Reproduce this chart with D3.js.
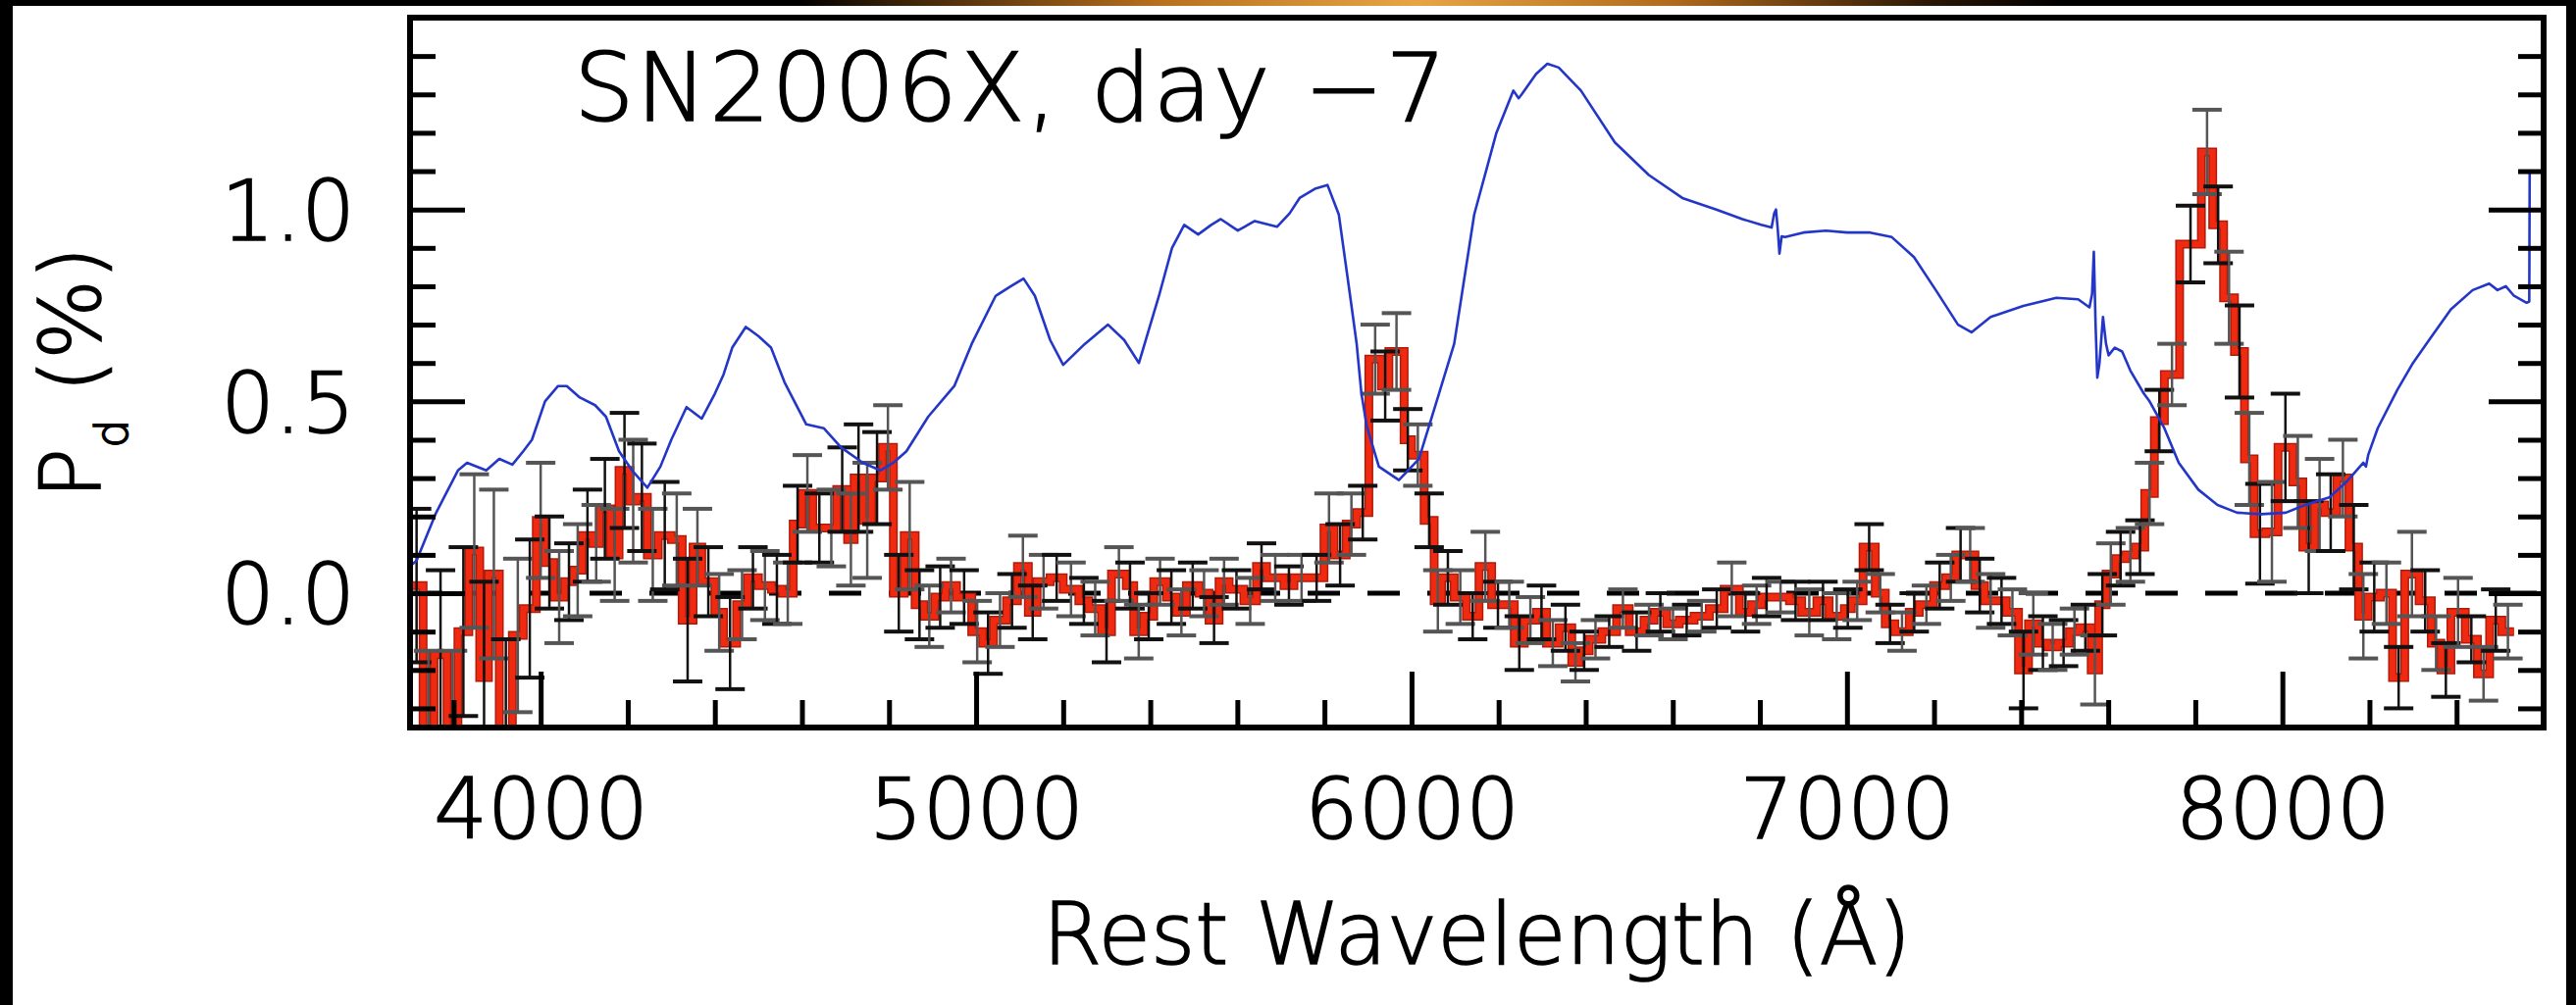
<!DOCTYPE html>
<html><head><meta charset="utf-8">
<script src="https://cdn.jsdelivr.net/npm/d3@7"></script>
<style>html,body{margin:0;padding:0;background:#000;overflow:hidden}</style>
</head><body><svg id="c" width="2626" height="1025"></svg>
<script>
// ---------- DATA ----------
const titleText = "SN2006X, day \u22127";
const xTitle = "Rest Wavelength (\u00C5)";
const xMajorTicks = [4000, 5000, 6000, 7000, 8000];
const xMinorTicks = [3800,4200,4400,4600,4800,5200,5400,5600,5800,6200,6400,6600,6800,7200,7400,7600,7800,8200,8400];
const yMajorTicks = [0.0, 0.5, 1.0];
const yMinorTicks = [-0.3,-0.2,-0.1,0.1,0.2,0.3,0.4,0.6,0.7,0.8,0.9,1.1,1.2,1.3,1.4];
const yTickLabels = ["0.0", "0.5", "1.0"];

// binned polarization (bin start wavelength, value, 1-sigma error)
const binStart = [
 3700,3730,3755,3785,3810,3835,3860,3880,3905,3935,3960,3990,
 4010,4030,4055,4075,4095,4120,4135,4160,4180,4205,4220,4245,4270,4300,4325,4350,4370,4400,4420,4450,4475,
 4500,4530,4555,4580,4600,4625,4655,4680,4705,4720,4740,4760,4785,4810,4835,4860,4880,4905,4930,4955,4990,
 5015,5040,5070,5095,5120,5140,5170,5200,5236,5259,5288,5311,5345,5362,5385,5408,5437,5460,5483,
 5512,5535,5558,5581,5615,5644,5667,5707,5730,5765,5799,5822,5850,5874,5902,5931,5948,5983,
 6000,6029,6052,6069,6098,6126,6155,6184,6213,6236,6259,6287,6310,6339,6368,6385,6408,6437,6471,
 6500,6534,6557,6586,6615,6649,6684,6718,6753,6781,6804,6827,6868,6896,6931,6959,6994,
 7010,7037,7065,7088,7110,7143,7166,7199,7227,7250,7272,7294,7316,7344,7366,7394,7417,7439,7461,7484,
 7511,7534,7561,7578,7595,7617,7640,7662,7684,7706,7729,7764,7814,7840,7865,7890,7913,7935,7962,
 7990,8024,8047,8074,8097,8125,8153,8175,8197,8225,8253,8281,8314,8342,8364,8387,8420,8448,8476,8504];
const binEnd = 8532;
const polValue = [
 0.02,-0.40,-0.16,-0.40,-0.10,0.11,-0.22,0.05,-0.40,-0.11,-0.04,0.19,
 0.08,-0.01,0.03,0.06,0.15,0.13,0.22,0.10,0.32,0.24,0.25,0.10,0.15,0.14,-0.07,0.12,0.03,-0.05,-0.13,-0.03,0.04,
 0.02,0.01,0.00,0.18,0.26,0.17,0.17,0.27,0.14,0.30,0.19,0.30,0.38,0.00,0.15,-0.03,-0.06,-0.01,0.02,-0.01,-0.10,
 -0.13,-0.07,-0.02,0.07,-0.05,0.03,0.04,0.01,-0.02,-0.04,-0.10,0.05,0.02,-0.10,-0.06,0.03,-0.01,-0.05,0.02,
 0.00,-0.07,0.03,0.01,-0.02,0.07,0.04,0.02,0.04,0.04,0.17,0.10,0.18,0.21,0.61,0.54,0.63,0.40,
 0.36,0.19,-0.02,0.04,-0.01,-0.06,0.07,-0.03,-0.03,-0.13,-0.07,-0.05,-0.13,-0.09,-0.18,-0.15,-0.12,-0.10,-0.04,
 -0.10,-0.07,-0.05,-0.08,-0.07,-0.06,-0.04,0.01,-0.05,-0.03,-0.01,-0.01,-0.02,-0.05,-0.02,-0.06,-0.04,
 -0.02,0.12,0.00,-0.08,-0.10,-0.05,-0.03,0.02,0.04,0.10,0.10,0.02,-0.02,-0.02,-0.05,-0.20,-0.08,-0.13,-0.14,-0.13,
 -0.10,-0.09,-0.20,-0.03,0.05,0.09,0.10,0.12,0.26,0.45,0.57,0.91,1.15,0.96,0.77,0.63,0.35,0.155,0.16,
 0.38,0.29,0.12,0.23,0.21,0.30,0.12,-0.06,-0.01,0.00,-0.22,0.05,-0.02,-0.13,-0.20,-0.05,-0.12,-0.21,-0.07,-0.10];
const polError = [
 0.20,0.25,0.22,0.25,0.22,0.20,0.25,0.22,0.28,0.20,0.18,0.15,
 0.12,0.12,0.10,0.12,0.12,0.10,0.13,0.12,0.15,0.16,0.14,0.12,0.14,0.12,0.16,0.10,0.09,0.10,0.12,0.09,0.08,
 0.09,0.09,0.08,0.10,0.10,0.09,0.10,0.11,0.12,0.14,0.15,0.12,0.11,0.10,0.14,0.09,0.08,0.08,0.07,0.07,0.08,
 0.08,0.07,0.07,0.08,0.07,0.07,0.06,0.07,0.06,0.07,0.08,0.07,0.06,0.07,0.06,0.06,0.07,0.06,0.06,
 0.06,0.06,0.06,0.05,0.06,0.06,0.06,0.05,0.06,0.06,0.09,0.08,0.08,0.07,0.09,0.09,0.10,0.08,
 0.08,0.07,0.08,0.07,0.07,0.06,0.09,0.06,0.06,0.07,0.06,0.07,0.06,0.06,0.05,0.05,0.05,0.04,0.05,
 0.05,0.04,0.05,0.04,0.04,0.04,0.05,0.07,0.05,0.05,0.05,0.04,0.05,0.06,0.05,0.06,0.05,
 0.05,0.06,0.05,0.05,0.05,0.05,0.05,0.06,0.06,0.07,0.07,0.07,0.07,0.06,0.06,0.10,0.08,0.07,0.06,0.06,
 0.06,0.06,0.09,0.08,0.08,0.07,0.07,0.07,0.08,0.08,0.08,0.10,0.11,0.10,0.12,0.12,0.12,0.13,0.13,
 0.14,0.12,0.12,0.12,0.10,0.10,0.11,0.11,0.09,0.08,0.08,0.11,0.08,0.07,0.07,0.09,0.06,0.07,0.08,0.07];

// scaled flux spectrum (blue)
const fluxWave = [3700,3715,3760,3810,3831,3875,3905,3935,3960,3980,4010,4040,4060,4090,4125,4150,4180,4210,4245,4275,4300,4335,4370,4400,4420,4440,4471,4500,4529,4560,4610,4650,4690,4740,4780,4810,4840,4890,4950,4990,5045,5080,5109,5135,5170,5200,5250,5303,5340,5374,5420,5450,5478,5510,5540,5562,5601,5640,5691,5720,5743,5780,5807,5833,5859,5874,5885,5897,5925,5971,6017,6063,6098,6144,6195,6234,6246,6253,6286,6312,6338,6389,6467,6545,6622,6700,6760,6803,6827,6833,6837,6841,6845,6850,6858,6900,6952,7000,7053,7103,7154,7204,7255,7286,7330,7405,7481,7531,7557,7563,7567,7571,7575,7580,7588,7595,7601,7615,7632,7651,7682,7695,7729,7762,7807,7851,7896,7952,8008,8052,8108,8147,8186,8192,8197,8219,8264,8300,8337,8387,8437,8475,8494,8513,8532,8561,8567,8568];
const fluxValue = [0.07,0.085,0.21,0.32,0.34,0.32,0.35,0.335,0.37,0.40,0.50,0.54,0.54,0.51,0.49,0.46,0.37,0.32,0.275,0.33,0.40,0.485,0.455,0.52,0.57,0.64,0.694,0.67,0.64,0.55,0.44,0.43,0.38,0.34,0.32,0.34,0.37,0.46,0.54,0.65,0.775,0.80,0.82,0.775,0.66,0.595,0.65,0.70,0.66,0.60,0.775,0.90,0.96,0.935,0.96,0.975,0.945,0.97,0.955,0.99,1.03,1.055,1.064,0.987,0.775,0.65,0.52,0.436,0.33,0.295,0.35,0.52,0.65,0.987,1.20,1.31,1.29,1.30,1.353,1.38,1.37,1.31,1.175,1.09,1.03,1.0,0.975,0.96,0.953,0.99,1.0,0.95,0.885,0.93,0.928,0.94,0.945,0.94,0.94,0.928,0.876,0.79,0.70,0.68,0.72,0.749,0.77,0.766,0.745,0.78,0.89,0.70,0.562,0.60,0.72,0.65,0.62,0.64,0.63,0.58,0.52,0.50,0.43,0.34,0.27,0.23,0.21,0.206,0.21,0.23,0.25,0.29,0.34,0.33,0.36,0.43,0.53,0.60,0.66,0.74,0.79,0.807,0.79,0.80,0.775,0.757,0.76,1.10];

// ---------- CHART ----------
const svg = d3.select("#c");
const M = {left: 418, right: 2593, top: 18, bottom: 742};
const x = d3.scaleLinear().domain([3700, 8600]).range([M.left, M.right]);
const y = d3.scaleLinear().domain([-0.35, 1.5]).range([M.bottom, M.top]);
const FONT = "'DejaVu Sans', sans-serif";
const FW = 200;
function textStyle(sel, size){
  sel.attr("font-family",FONT).attr("font-weight",FW).attr("font-size",size)
     .attr("fill","#000").attr("stroke","#000").attr("stroke-width",1.6);
}

// backdrop: black frame with warm strip on top, white slide
const defs = svg.append("defs");
const g0 = defs.append("linearGradient").attr("id","topstrip").attr("x1","0").attr("x2","1").attr("y1","0").attr("y2","0");
[[0,"#000"],[0.31,"#000"],[0.35,"#3a2208"],[0.45,"#b8701e"],[0.55,"#e8a444"],[0.65,"#b06a1c"],[0.75,"#2a1605"],[0.8,"#000"],[1,"#000"]]
  .forEach(([o,c]) => g0.append("stop").attr("offset",o).attr("stop-color",c));
svg.append("rect").attr("width",2626).attr("height",1025).attr("fill","#000");
svg.append("rect").attr("x",0).attr("y",0).attr("width",2626).attr("height",7).attr("fill","url(#topstrip)");
svg.append("rect").attr("x",13).attr("y",6).attr("width",2603).attr("height",1019).attr("fill","#fff");

defs.append("clipPath").attr("id","plotclip").append("rect")
  .attr("x",M.left).attr("y",M.top).attr("width",M.right-M.left).attr("height",M.bottom-M.top);

const plot = svg.append("g").attr("clip-path","url(#plotclip)");

// zero dashed line
plot.append("line").attr("x1",x(3700)).attr("x2",x(8600)).attr("y1",y(0)).attr("y2",y(0))
  .attr("stroke","#000").attr("stroke-width",5).attr("stroke-dasharray","33 28");

// histogram
const bins = binStart.map((s,i) => ({s, e: i < binStart.length-1 ? binStart[i+1] : binEnd, v: polValue[i], err: polError[i]}));
const stepPts = bins.map(b => [b.s, b.v]).concat([[binEnd, polValue[polValue.length-1]]]);
const stepLine = d3.line().x(d => x(d[0])).y(d => y(d[1])).curve(d3.curveStepAfter);
plot.append("path").attr("d", stepLine(stepPts)).attr("fill","none")
  .attr("stroke","#b01c0c").attr("stroke-width",9).attr("stroke-linejoin","miter");
plot.append("path").attr("d", stepLine(stepPts)).attr("fill","none")
  .attr("stroke","#f02a10").attr("stroke-width",6).attr("stroke-linejoin","miter");

// error bars
const eb = plot.append("g").selectAll("g").data(bins).join("g");
eb.each(function(b,i){
  const g = d3.select(this);
  const cx = x((b.s+b.e)/2);
  const col = i % 2 ? "#555" : "#111";
  g.append("line").attr("x1",cx).attr("x2",cx).attr("y1",y(b.v-b.err)).attr("y2",y(b.v+b.err))
    .attr("stroke",col).attr("stroke-width",2.5);
  [b.v-b.err, b.v+b.err].forEach(v => g.append("line").attr("x1",cx-15).attr("x2",cx+15)
    .attr("y1",y(v)).attr("y2",y(v)).attr("stroke",col).attr("stroke-width",4));
});

// flux spectrum
const fluxLine = d3.line().x((d,i) => x(fluxWave[i])).y(d => y(d)).curve(d3.curveLinear);
plot.append("path").attr("d", fluxLine(fluxValue)).attr("fill","none")
  .attr("stroke","#2436c8").attr("stroke-width",2.6).attr("stroke-linejoin","round");

// axes
function styleAxis(g){ g.select(".domain").remove(); g.selectAll(".tick line").attr("stroke","#000").attr("stroke-width",5); }
svg.append("g").attr("transform",`translate(0,${M.bottom})`)
  .call(d3.axisBottom(x).tickValues(xMinorTicks).tickSize(-28).tickFormat("")).call(styleAxis);
const xMaj = svg.append("g").attr("transform",`translate(0,${M.bottom})`)
  .call(d3.axisBottom(x).tickValues(xMajorTicks).tickSize(-57).tickFormat(d3.format("d"))).call(styleAxis);
xMaj.selectAll("text").attr("y",113).attr("dy",0).call(textStyle, 86);

svg.append("g").attr("transform",`translate(${M.left},0)`)
  .call(d3.axisLeft(y).tickValues(yMinorTicks).tickSize(-26).tickFormat("")).call(styleAxis);
const yMaj = svg.append("g").attr("transform",`translate(${M.left},0)`)
  .call(d3.axisLeft(y).tickValues(yMajorTicks).tickSize(-56).tickFormat((d,i) => yTickLabels[i])).call(styleAxis);
yMaj.selectAll("text").attr("x",-56).attr("dy","0.36em").call(textStyle, 86);

svg.append("g").attr("transform",`translate(${M.right},0)`)
  .call(d3.axisRight(y).tickValues(yMinorTicks).tickSize(-26).tickFormat("")).call(styleAxis);
svg.append("g").attr("transform",`translate(${M.right},0)`)
  .call(d3.axisRight(y).tickValues(yMajorTicks).tickSize(-56).tickFormat("")).call(styleAxis);

// frame
svg.append("rect").attr("x",M.left).attr("y",M.top).attr("width",M.right-M.left).attr("height",M.bottom-M.top)
  .attr("fill","none").attr("stroke","#000").attr("stroke-width",6);

// texts
svg.append("text").attr("x",585).attr("y",123).call(textStyle, 97)
  .attr("letter-spacing",2).text(titleText);
svg.append("text").attr("x",(M.left+M.right)/2).attr("y",983).attr("text-anchor","middle")
  .call(textStyle, 87).text(xTitle);
const yt = svg.append("text").attr("transform","translate(102,380) rotate(-90)").attr("text-anchor","middle")
  .call(textStyle, 86);
yt.append("tspan").text("P");
yt.append("tspan").attr("font-size",46).attr("dy",28).text("d");
yt.append("tspan").attr("dy",-28).text(" (%)");
</script></body></html>
